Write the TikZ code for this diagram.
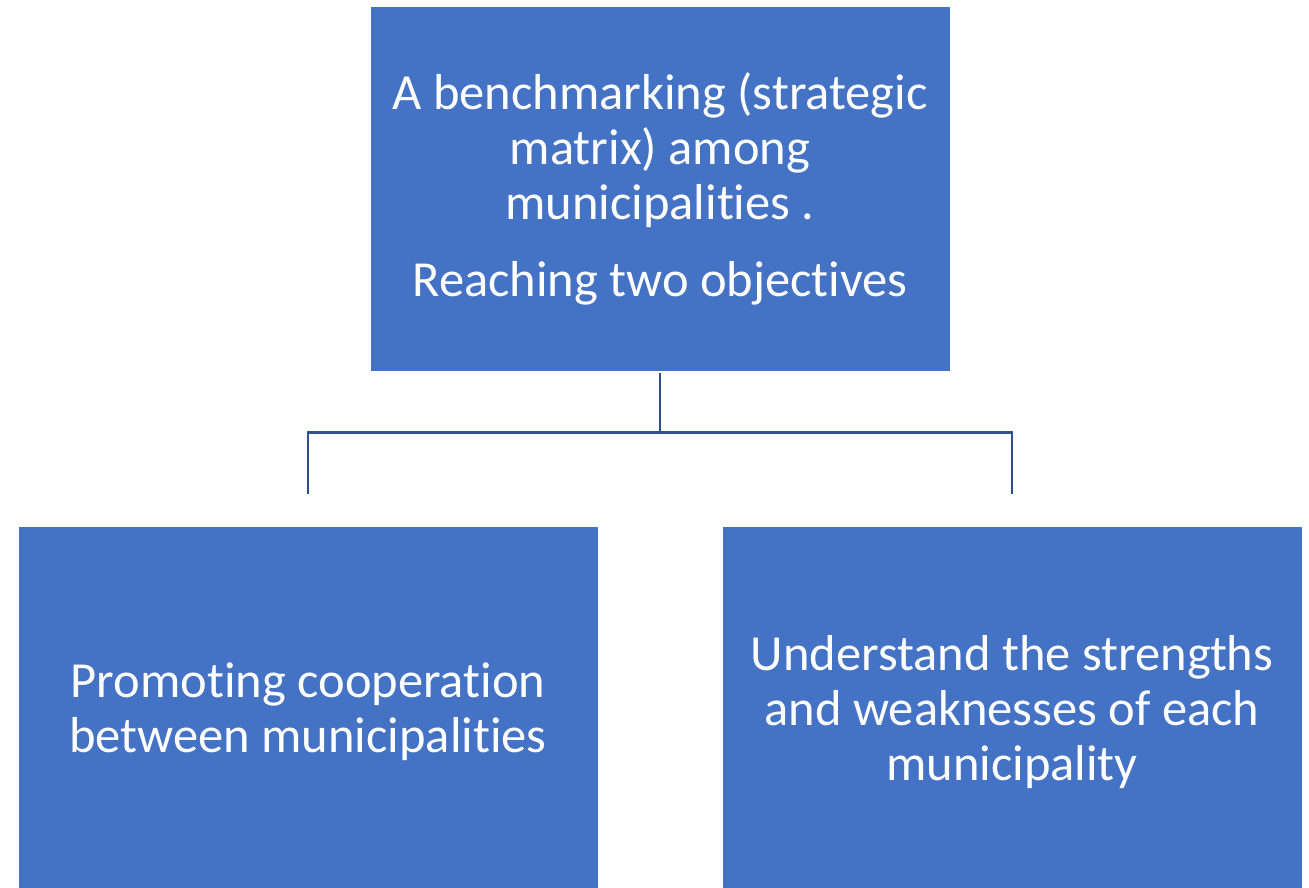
\documentclass[tikz,border=0pt]{standalone}
\usepackage{fontspec}
\setmainfont{Carlito}[RawFeature=-liga]
\definecolor{boxblue}{HTML}{4472C4}
\definecolor{lineblue}{HTML}{2F528F}
\begin{document}
\begin{tikzpicture}[x=1pt,y=-1pt,
  bluebox/.style={fill=boxblue, draw=none, text=white, align=center,
    minimum width=579pt, inner sep=0pt,
    font=\fontsize{50.5}{55}\selectfont},
  conn/.style={draw=lineblue, line width=2.4pt}]
\useasboundingbox (0,0) rectangle (1309,887);
\node[bluebox, minimum height=364pt] (top) at (660,189)
  {A benchmarking (strategic\\matrix) among\\municipalities .\\[22pt]Reaching two objectives};
\node[bluebox, minimum height=370pt] (lb) at (308,712)
  {Promoting cooperation\\between municipalities};
\node[bluebox, minimum height=370pt] (rb) at (1012,712)
  {Understand the strengths\\and weaknesses of each\\municipality};
\coordinate (j) at (660,432.5);
\coordinate (lend) at (308,494);
\coordinate (rend) at (1012,494);
\path[conn] ([yshift=-2pt]top.south) -- (j);
\path[conn] (lend) -- (lend |- j) -- (rend |- j) -- (rend);
\end{tikzpicture}
\end{document}
